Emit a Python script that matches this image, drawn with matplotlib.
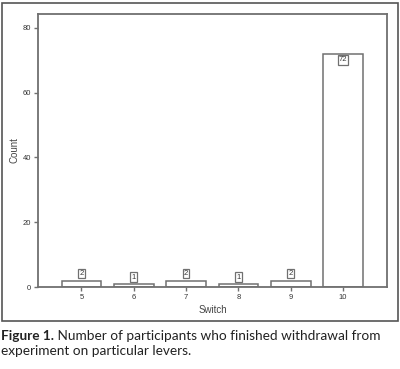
import matplotlib
matplotlib.use("Agg")
import matplotlib.pyplot as plt
from matplotlib.patches import Rectangle

switches = [5, 6, 7, 8, 9, 10]
counts = [2, 1, 2, 1, 2, 72]
yticks = [0, 20, 40, 60, 80]

W, H = 400, 369
fig = plt.figure(figsize=(W / 100, H / 100), dpi=100)
plt.rcParams["font.family"] = ["Liberation Sans", "DejaVu Sans"]

def fx(px):
    return px / W

def fy(py):
    return 1 - py / H

# outer panel border
fig.patches.append(Rectangle((fx(2), fy(321)), fx(396), 318 / H, transform=fig.transFigure,
                             fill=False, edgecolor="#555555", linewidth=1.2))

ax = fig.add_axes([fx(38), fy(287), fx(349), 273 / H])
line_c = "#707070"
ax.bar(switches, counts, width=0.76, facecolor="white", edgecolor=line_c, linewidth=1.1, zorder=2)
ax.set_xlim(4.17, 10.84)
ax.set_ylim(0, 84.3)
ax.set_yticks(yticks)
ax.set_xticks(switches)
ax.set_xticklabels([str(s) for s in switches], fontsize=5.5, color="#333333")
ax.set_yticklabels([str(v) for v in yticks], fontsize=5.5, color="#333333")
ax.tick_params(axis="both", length=3, width=1, color=line_c, pad=2)
for s in ax.spines.values():
    s.set_color(line_c)
    s.set_linewidth(1.3)
ax.set_xlabel("Switch", fontsize=7, color="#444444", labelpad=3)
ax.set_ylabel("Count", fontsize=7, color="#444444", labelpad=2)

for s, c in zip(switches, counts):
    if c > 10:
        ax.text(s, c - 0.8, str(c), ha="center", va="top", fontsize=5.5, color="#333333",
                bbox=dict(boxstyle="square,pad=0.15", facecolor="white", edgecolor=line_c, linewidth=0.9))
    else:
        ax.text(s, c + 1.0, str(c), ha="center", va="bottom", fontsize=5.5, color="#333333",
                bbox=dict(boxstyle="square,pad=0.15", facecolor="white", edgecolor=line_c, linewidth=0.9))

t = fig.text(fx(1), fy(340), "Figure 1.", fontsize=9.8, fontweight="bold", family="Lato",
             color="#222222", va="baseline")
fig.canvas.draw()
ann = ax.annotate(" Number of participants who finished withdrawal from", xy=(1, 0), xycoords=t,
                  va="bottom", ha="left", fontsize=9.8, family="Lato", color="#222222",
                  annotation_clip=False)
fig.text(fx(1), fy(355), "experiment on particular levers.", fontsize=9.8, family="Lato",
         color="#222222", va="baseline")

fig.savefig("out.png", dpi=100)
